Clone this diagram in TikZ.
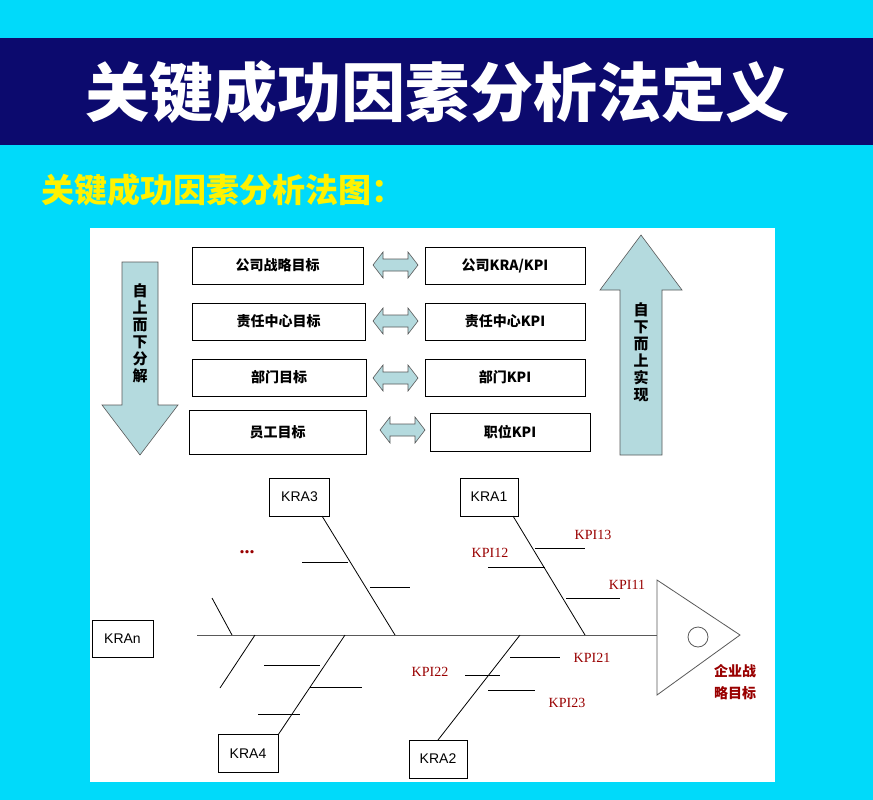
\documentclass[tikz,border=0pt]{standalone}
\usepackage{fontspec}
\newfontfamily\cjk{Noto Sans CJK SC}
\setmainfont{Liberation Serif}
\setsansfont{Liberation Sans}
\begin{document}
\begin{tikzpicture}[x=1pt,y=-1pt,
  box/.style={draw,line width=0.8pt,fill=white,inner sep=0pt},
  kra/.style={draw,line width=0.8pt,inner sep=0pt,minimum width=60pt,minimum height=38pt,font=\sffamily\fontsize{14}{14}\selectfont},
  kpi/.style={text=red!60!black,font=\fontsize{14}{14}\selectfont},
  dbl/.style={draw=gray!70!black,fill=arrfill,line width=0.6pt},
  bone/.style={line width=0.8pt}]
\definecolor{bgc}{RGB}{0,218,250}
\definecolor{navy}{RGB}{12,10,110}
\definecolor{arrfill}{RGB}{180,218,222}
\useasboundingbox (0,0) rectangle (873,800);
\fill[bgc] (0,0) rectangle (873,800);
\fill[navy] (0,38) rectangle (873,145);
\node[text=white,font=\cjk\bfseries\fontsize{64}{64}\selectfont] (title) at (437,92) {关键成功因素分析法定义};
\node[text=yellow,anchor=west,font=\cjk\bfseries\fontsize{33}{33}\selectfont] (sub) at (38,190) {关键成功因素分析法图：};
\fill[white] (90,228) rectangle (775,782);
% boxes
\tikzset{tb/.style={font=\cjk\bfseries\fontsize{14}{14}\selectfont}}
\foreach \n/\a/\b/\c/\d/\t in {l1/192/247/363/284/公司战略目标,l2/192/303/365/340/责任中心目标,l3/192/359/366/396/部门目标,l4/189/410/366/454/员工目标,r1/425/247/585/284/{公司KRA/KPI},r2/425/303/585/340/责任中心KPI,r3/425/359/585/396/部门KPI,r4/430/413/590/451/职位KPI}{
  \draw[line width=0.8pt] (\a,\b) rectangle (\c,\d);
  \node[tb] (\n) at ({(\a+\c)/2},{(\b+\d)/2}) {\t};
}
% double arrows
\foreach \xa/\xb/\y in {373/418/265,373/418/321,373/418/378,380/425/430}{
  \draw[dbl] (\xa,\y) -- (\xa+10,\y-13) -- (\xa+10,\y-6) -- (\xb-10,\y-6) -- (\xb-10,\y-13) -- (\xb,\y) -- (\xb-10,\y+13) -- (\xb-10,\y+6) -- (\xa+10,\y+6) -- (\xa+10,\y+13) -- cycle;
}
% big arrows
\draw[dbl] (122,262) -- (158,262) -- (158,405) -- (178,405) -- (140,455) -- (102,405) -- (122,405) -- cycle;
\node[font=\cjk\bfseries\fontsize{15}{17}\selectfont,align=center] (down) at (140,333) {自\\上\\而\\下\\分\\解};
\draw[dbl] (620,455) -- (662,455) -- (662,290) -- (682,290) -- (641,235) -- (600,290) -- (620,290) -- cycle;
\node[font=\cjk\bfseries\fontsize{15}{17}\selectfont,align=center] (up) at (641,352) {自\\下\\而\\上\\实\\现};
% fishbone
\coordinate (tail) at (197,635);
\coordinate (head) at (657,635);
\draw[bone,gray!70!black] (tail) -- (head);
\draw[bone,gray!70!black,fill=white] (657,580) -- (740,635) -- (657,695) -- cycle;
\draw[gray!70!black,line width=0.8pt] (698,637) circle (10);
\node[kpi,font=\cjk\bfseries\fontsize{14}{22}\selectfont,align=center] (goal) at (735,682) {企业战\\略目标};
\node[kra] (k3) at (299.5,497) {KRA3};
\node[kra,minimum width=58pt] (k1) at (489,497) {KRA1};
\node[kra,minimum width=61pt,minimum height=37pt] (kn) at (122.5,638.5) {KRAn};
\node[kra] (k4) at (248,753.5) {KRA4};
\node[kra,minimum width=58pt] (k2) at (438,759) {KRA2};
\draw[bone] (513,516) -- (585,635);
\draw[bone] (322,516) -- (395,635);
\draw[bone] (438,740) -- (520,635);
\draw[bone] (278,735) -- (345,635);
\draw[bone] (212,598) -- (232,635);
\draw[bone] (255,635) -- (220,688);
\foreach \xa/\xb/\y in {535/585/548,488/545/567,566/620/598,302/348/562,370/410/587,510/560/657,465/500/675,488/535/690,264/320/665,310/362/687,258/300/714}
  \draw[bone] (\xa,\y) -- (\xb,\y);
\node[kpi] (p13) at (593,535) {KPI13};
\node[kpi] (p12) at (490,553) {KPI12};
\node[kpi] (p11) at (627,585) {KPI11};
\node[kpi] (p21) at (592,658) {KPI21};
\node[kpi] (p22) at (430,672) {KPI22};
\node[kpi] (p23) at (567,703) {KPI23};
\node[kpi,font=\bfseries\fontsize{20}{20}\selectfont] (dots) at (247,552) {...};
\end{tikzpicture}
\end{document}
